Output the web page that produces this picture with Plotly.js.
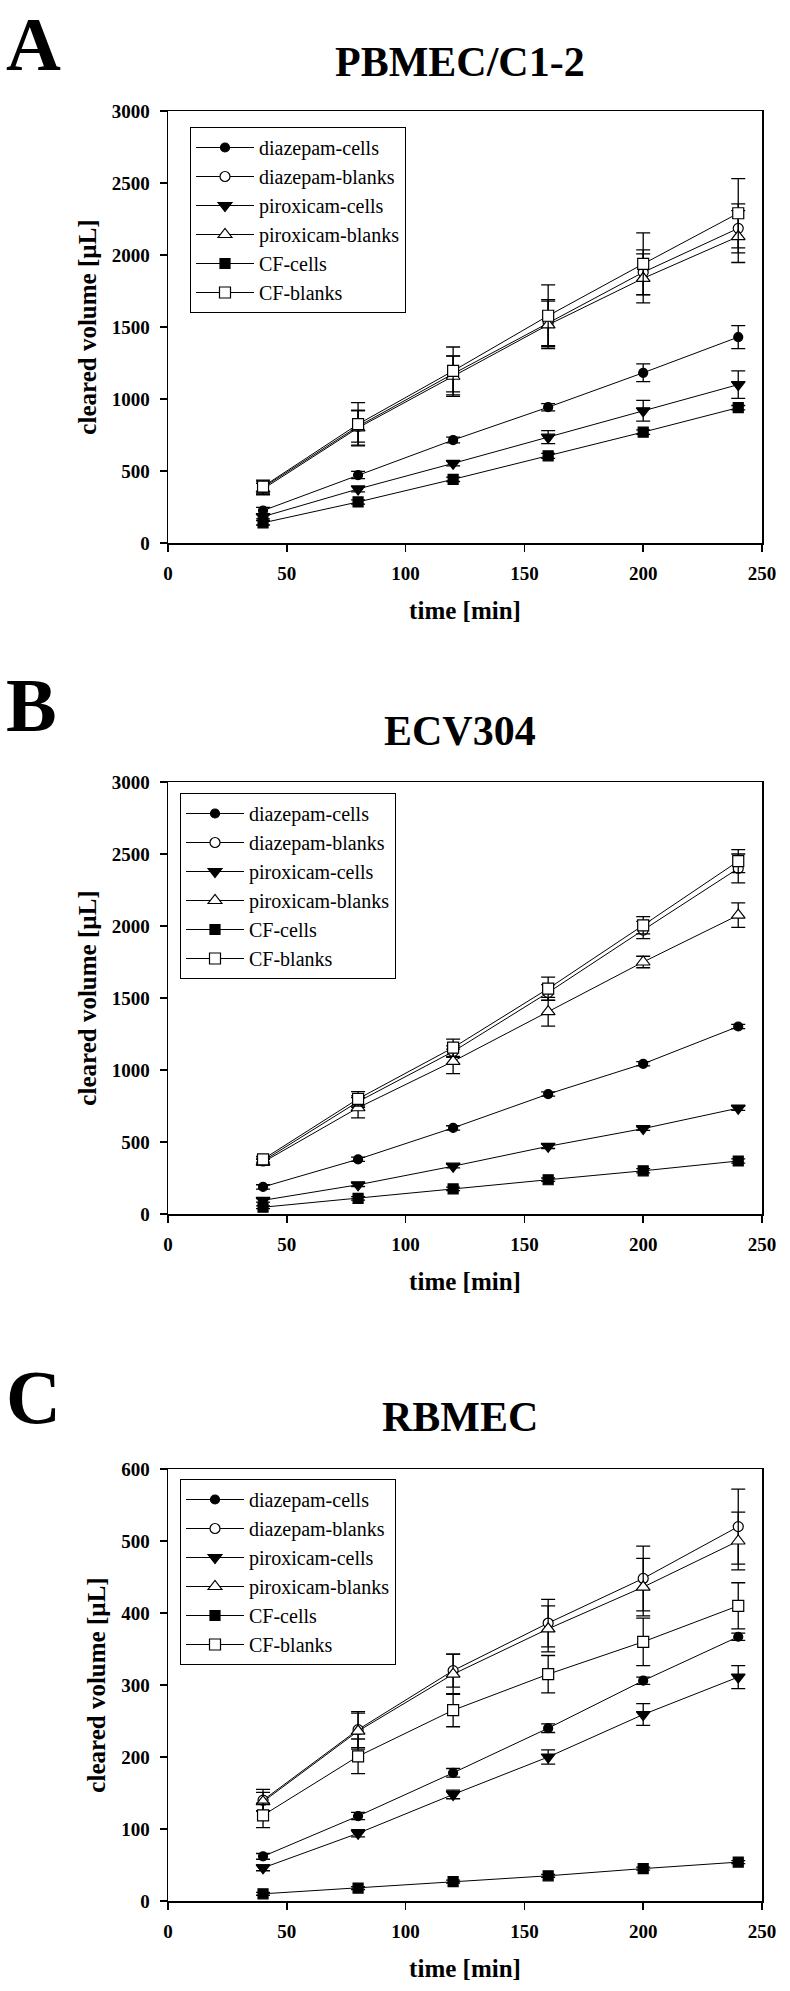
<!DOCTYPE html>
<html><head><meta charset="utf-8">
<script src="https://cdn.plot.ly/plotly-3.0.1.min.js"></script>
<style>html,body{margin:0;padding:0;background:#fff}</style>
</head><body><div id="chart" style="width:790px;height:1991px"></div>
<script>
// ---------- data ----------
const timeMin = [40, 80, 120, 160, 200, 240];
const seriesNames = ['diazepam-cells', 'diazepam-blanks', 'piroxicam-cells', 'piroxicam-blanks', 'CF-cells', 'CF-blanks'];
const panelLetters = ['A', 'B', 'C'];
const panelTitles = ['PBMEC/C1-2', 'ECV304', 'RBMEC'];
const xAxisTitle = 'time [min]';
const yAxisTitle = 'cleared volume [µL]';
const xTickVals = [0, 50, 100, 150, 200, 250];
const yTickValsAB = [0, 500, 1000, 1500, 2000, 2500, 3000];
const yTickValsC = [0, 100, 200, 300, 400, 500, 600];

// PBMEC/C1-2 (panel A): mean, error
const pbmecMean = [
  [225, 472, 715, 943, 1182, 1430],
  [385, 810, 1175, 1530, 1880, 2185],
  [183, 375, 553, 735, 918, 1100],
  [375, 800, 1158, 1515, 1838, 2128],
  [140, 285, 442, 605, 770, 940],
  [392, 825, 1195, 1578, 1938, 2290]
];
const pbmecErr = [
  [22, 25, 20, 25, 62, 80],
  [45, 110, 125, 160, 155, 170],
  [15, 20, 18, 45, 72, 95],
  [40, 120, 140, 165, 170, 180],
  [15, 15, 15, 18, 15, 15],
  [45, 150, 166, 215, 215, 240]
];
// ECV304 (panel B)
const ecvMean = [
  [188, 380, 598, 833, 1043, 1302],
  [368, 780, 1128, 1538, 1972, 2400],
  [95, 203, 332, 470, 593, 735],
  [360, 738, 1060, 1405, 1750, 2075],
  [47, 108, 174, 238, 300, 368],
  [380, 800, 1155, 1565, 2005, 2450]
];
const ecvErr = [
  [15, 15, 15, 15, 15, 15],
  [20, 40, 40, 55, 60, 100],
  [12, 12, 12, 15, 12, 15],
  [20, 70, 85, 100, 40, 85],
  [10, 12, 12, 12, 15, 15],
  [20, 50, 60, 80, 60, 80]
];
// RBMEC (panel C)
const rbmecMean = [
  [62, 118, 178, 240, 306, 367],
  [140, 238, 320, 386, 448, 520],
  [46, 94, 148, 200, 259, 311],
  [138, 236, 315, 378, 436, 500],
  [10, 18, 27, 35, 45, 54],
  [119, 201, 265, 315, 360, 410]
];
const rbmecErr = [
  [4, 5, 6, 6, 5, 5],
  [15, 25, 23, 33, 45, 52],
  [4, 5, 6, 10, 15, 16],
  [13, 25, 28, 32, 40, 40],
  [2, 2, 2, 2, 2, 2],
  [17, 24, 23, 26, 33, 32]
];

// ---------- styles ----------
const SERIF = 'Liberation Serif, Times New Roman, serif';
const markerStyles = [
  {symbol: 'circle', size: 9, color: 'black'},
  {symbol: 'circle', size: 10, color: 'white'},
  {symbol: 'triangle-down', size: 12, color: 'black'},
  {symbol: 'triangle-up', size: 12, color: 'white'},
  {symbol: 'square', size: 10, color: 'black'},
  {symbol: 'square', size: 11, color: 'white'}
];

const panels = [
  {mean: pbmecMean, err: pbmecErr, yRange: [0, 3000], yTicks: yTickValsAB},
  {mean: ecvMean, err: ecvErr, yRange: [0, 3000], yTicks: yTickValsAB},
  {mean: rbmecMean, err: rbmecErr, yRange: [0, 600], yTicks: yTickValsC}
];

// pixel layout helpers (figure 790 x 1991)
const W = 790, H = 1991;
const px = v => v / W;
const py = v => 1 - v / H;
const plotBoxes = [
  {top: 111, bottom: 543, legendX: 190, legendY: 127, letterY: 44, titleY: 62},
  {top: 782, bottom: 1214, legendX: 180, legendY: 793, letterY: 705, titleY: 731},
  {top: 1469, bottom: 1901, legendX: 180, legendY: 1479, letterY: 1397, titleY: 1417}
];
const xLeft = 168, xRight = 762;

const traces = [];
const layout = {
  width: W, height: H,
  margin: {l: 0, r: 0, t: 0, b: 0},
  paper_bgcolor: 'white', plot_bgcolor: 'white',
  font: {family: SERIF, color: 'black'},
  showlegend: true,
  annotations: []
};

panels.forEach((p, pi) => {
  const sfx = pi === 0 ? '' : String(pi + 1);
  const legName = 'legend' + sfx;
  p.mean.forEach((vals, si) => {
    const m = markerStyles[si];
    traces.push({
      type: 'scatter', mode: 'lines+markers',
      x: timeMin, y: vals,
      name: seriesNames[si],
      xaxis: 'x' + sfx, yaxis: 'y' + sfx,
      legend: legName,
      line: {color: 'black', width: 1},
      marker: {symbol: m.symbol, size: m.size, color: m.color, line: {color: 'black', width: 1.2}},
      error_y: {type: 'data', array: p.err[si], visible: true, color: 'black', thickness: 1.3, width: 7},
      hoverinfo: 'x+y+name'
    });
  });
  const b = plotBoxes[pi];
  layout['xaxis' + sfx] = {
    domain: [px(xLeft), px(xRight)], anchor: 'y' + sfx,
    range: [0, 250], tickvals: xTickVals, ticktext: xTickVals.map(String),
    showline: true, linecolor: 'black', linewidth: 1.5, mirror: true,
    ticks: 'outside', ticklen: 7, tickwidth: 1.5, tickcolor: 'black',
    showgrid: false, zeroline: false, ticklabelstandoff: 6,
    tickfont: {family: SERIF, size: 19, color: 'black', weight: 'bold'},
    title: {text: xAxisTitle, standoff: 18, font: {family: SERIF, size: 25, color: 'black', weight: 'bold'}},
    fixedrange: true
  };
  layout['yaxis' + sfx] = {
    domain: [py(b.bottom), py(b.top)], anchor: 'x' + sfx,
    range: p.yRange, tickvals: p.yTicks, ticktext: p.yTicks.map(String),
    showline: true, linecolor: 'black', linewidth: 1.5, mirror: true,
    ticks: 'outside', ticklen: 7, tickwidth: 1.5, tickcolor: 'black',
    showgrid: false, zeroline: false, ticklabelstandoff: 6,
    tickfont: {family: SERIF, size: 19, color: 'black', weight: 'bold'},
    title: {text: yAxisTitle, standoff: 8, font: {family: SERIF, size: 25, color: 'black', weight: 'bold'}},
    fixedrange: true
  };
  layout[legName] = {
    x: px(b.legendX), y: py(b.legendY), xanchor: 'left', yanchor: 'top',
    bgcolor: 'white', bordercolor: 'black', borderwidth: 1,
    font: {family: SERIF, size: 20, color: 'black'},
    itemwidth: 58, tracegroupgap: 0
  };
  layout.annotations.push({
    text: '<b>' + panelLetters[pi] + '</b>', xref: 'paper', yref: 'paper',
    x: px(4), y: py(b.letterY), xanchor: 'left', yanchor: 'middle', showarrow: false,
    font: {family: SERIF, size: 76, color: 'black'}
  });
  layout.annotations.push({
    text: '<b>' + panelTitles[pi] + '</b>', xref: 'paper', yref: 'paper',
    x: px(460), y: py(b.titleY), xanchor: 'center', yanchor: 'middle', showarrow: false,
    font: {family: SERIF, size: 42, color: 'black'}
  });
});

Plotly.newPlot('chart', traces, layout, {displayModeBar: false, staticPlot: true});
</script>
</body></html>
